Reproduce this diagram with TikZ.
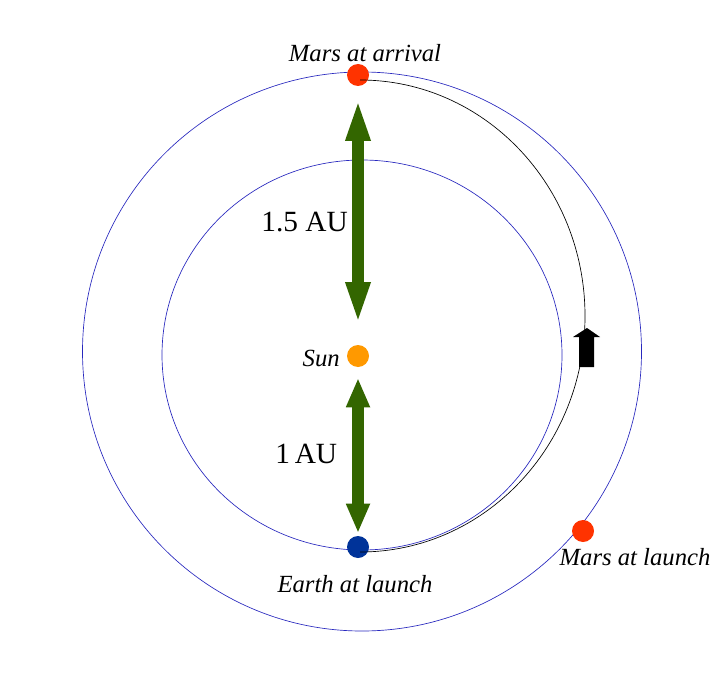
\documentclass[tikz,border=0pt]{standalone}
\usepackage{fontspec}
\setmainfont{Liberation Serif}
\usetikzlibrary{arrows.meta}
\definecolor{orbitblue}{RGB}{40,40,190}
\definecolor{arrowgreen}{RGB}{51,102,0}
\definecolor{marsred}{RGB}{255,51,0}
\definecolor{sunorange}{RGB}{255,153,0}
\definecolor{earthblue}{RGB}{0,51,153}
\tikzset{
	planet/.style={circle,fill=#1,minimum size=16.5pt,inner sep=0pt},
	orbit/.style={draw=orbitblue,line width=0.5pt},
	distarrow/.style={arrowgreen,line width=9pt,
		{Triangle[width=16.5pt,length=#1]}-{Triangle[width=16.5pt,length=#1]}},
	biglabel/.style={inner sep=0pt,font=\fontsize{22}{26}\selectfont},
	planetlabel/.style={inner sep=0pt,font=\itshape\fontsize{18.5}{22}\selectfont}
}
\begin{document}
\begin{tikzpicture}[x=0.75pt,y=-0.75pt]
			\useasboundingbox (0,0) rectangle (720,684);
			%Orbits of Earth and Mars
			\draw[orbit] (362,355) ellipse [x radius=200,y radius=195];
			\draw[orbit] (362,351.5) circle [radius=279.5];
			%Sun and planets
			\node [planet=sunorange] (sun) at (358,356) {};
			\node [planet=marsred] (marsArrival) at (358,75) {};
			\node [planet=earthblue] (earth) at (358,547) {};
			\node [planet=marsred] (marsLaunch) at (583,531) {};
			%Transfer orbit
			\coordinate (launch) at (360,552);
			\draw [line width=0.5pt] (launch) arc [start angle=90,end angle=-90,x radius=225,y radius=236];
			%Direction of flight
			\fill (587,328) -- (600,337) -- (594,337) -- (594,367) -- (579,367) -- (579,337) -- (573,337) -- cycle;
			%Distances
			\draw [distarrow=32pt,shorten <=15pt,shorten >=9pt] (sun) -- (marsArrival);
			\draw [distarrow=22pt,shorten <=8pt,shorten >=2pt] (sun) -- (earth);
			\node [biglabel,anchor=base east] (auMars) at (348,232) {1.5 AU};
			\node [biglabel,anchor=base west] (auEarth) at (275,463) {1\,AU};
			%Labels
			\node [planetlabel,anchor=base] (lblArrival) at (365,62) {Mars at arrival};
			\node [planetlabel,anchor=base east] (lblSun) at (340,366) {Sun};
			\node [planetlabel,anchor=base] (lblEarth) at (355,592) {Earth at launch};
			\node [planetlabel,anchor=base] (lblLaunch) at (635,565) {Mars at launch};
\end{tikzpicture}
\end{document}
